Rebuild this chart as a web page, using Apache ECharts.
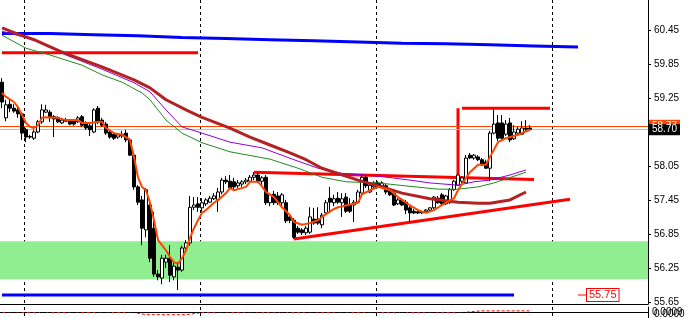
<!DOCTYPE html>
<html>
<head>
<meta charset="utf-8">
<script src="https://cdn.jsdelivr.net/npm/echarts@6/dist/echarts.min.js"></script>
<style>
  html, body { margin: 0; padding: 0; background: #fff; }
  #chart { width: 691px; height: 318px; }
</style>
</head>
<body>
<div id="chart"></div>
<script>
// price axis ticks shown on the right
var priceTicks = [55.65, 56.25, 56.85, 57.45, 58.05, 58.65, 59.25, 59.85, 60.45];

// candles: [open, close, low, high]
var candles = [
  [59.54,59.19,59.08,59.61],[58.91,59.14,58.85,59.23],[59.15,59.08,59.01,59.23],[59.08,59.03,59.00,59.15],
  [59.05,58.98,58.91,59.12],[58.98,58.64,58.52,59.01],[58.70,58.57,58.48,58.73],[58.58,58.57,58.54,58.61],
  [58.55,58.66,58.52,58.70],[58.66,58.84,58.64,58.87],[58.84,59.05,58.80,59.15],[59.01,59.05,59.00,59.14],
  [59.01,58.91,58.84,59.05],[58.93,58.89,58.57,58.96],[58.91,58.84,58.82,58.94],[58.82,58.87,58.80,58.91],
  [58.87,58.85,58.84,58.91],[58.85,58.80,58.78,58.89],[58.85,58.80,58.77,58.89],[58.84,58.91,58.82,58.94],
  [58.93,58.78,58.75,58.96],[58.82,58.73,58.70,58.85],[58.77,58.70,58.59,58.80],[58.66,59.05,58.64,59.08],
  [59.08,58.84,58.80,59.12],[58.87,58.78,58.75,58.91],[58.80,58.64,58.61,58.84],[58.66,58.57,58.54,58.70],
  [58.62,58.55,58.52,58.66],[58.57,58.61,58.54,58.64],[58.62,58.59,58.55,58.68],[58.64,58.52,58.48,58.70],
  [58.52,58.25,58.24,58.55],[58.25,57.69,57.64,58.31],[57.69,57.42,57.37,57.72],[57.46,56.96,56.66,57.53],
  [56.93,57.64,56.80,57.67],[57.37,56.43,56.36,57.46],[56.96,56.15,56.10,57.25],[56.15,56.10,56.04,56.22],
  [56.08,56.43,55.97,56.49],[56.36,56.43,56.26,56.49],[56.43,56.13,56.01,56.66],[56.10,56.29,56.04,56.36],
  [56.27,56.22,55.87,56.36],[56.22,56.61,56.19,56.65],[56.61,56.70,56.57,56.75],[56.70,57.33,56.65,57.53],
  [57.33,57.37,57.28,57.51],[57.39,57.33,57.25,57.51],[57.32,57.41,57.25,57.49],[57.39,57.46,57.35,57.49],
  [57.42,57.49,57.41,57.53],[57.48,57.53,57.46,57.58],[57.46,57.60,57.25,57.67],[57.60,57.81,57.56,57.85],
  [57.81,57.78,57.74,57.88],[57.79,57.67,57.64,57.90],[57.78,57.69,57.65,57.85],[57.71,57.76,57.67,57.81],
  [57.74,57.78,57.69,57.81],[57.78,57.81,57.74,57.85],[57.79,57.86,57.76,57.90],[57.86,57.90,57.81,57.95],
  [57.90,57.79,57.76,57.95],[57.79,57.85,57.71,57.88],[57.86,57.41,57.37,57.90],[57.41,57.55,57.35,57.58],
  [57.56,57.41,57.37,57.62],[57.53,57.41,57.37,57.60],[57.41,57.55,57.33,57.58],[57.41,57.09,57.05,57.46],
  [57.16,57.10,57.05,57.19],[57.10,56.80,56.77,57.14],[56.96,56.89,56.86,57.00],[56.93,56.88,56.84,56.96],
  [56.88,56.96,56.84,57.00],[56.89,57.16,56.86,57.33],[57.12,57.05,57.02,57.32],[57.12,57.05,57.02,57.33],
  [57.02,57.19,56.96,57.23],[57.23,57.41,57.19,57.46],[57.49,57.42,57.23,57.69],[57.41,57.48,57.35,57.55],
  [57.49,57.42,57.39,57.60],[57.41,57.48,57.16,57.58],[57.51,57.26,57.23,57.58],[57.37,57.26,57.23,57.49],
  [57.37,57.42,57.07,57.46],[57.42,57.60,57.39,57.64],[57.58,57.86,57.55,57.90],[57.86,57.71,57.67,57.90],
  [57.60,57.72,57.58,57.76],[57.69,57.76,57.67,57.79],[57.76,57.71,57.69,57.79],[57.71,57.76,57.69,57.79],
  [57.71,57.60,57.56,57.74],[57.64,57.55,57.53,57.67],[57.58,57.37,57.35,57.62],[57.39,57.46,57.37,57.49],
  [57.46,57.37,57.35,57.49],[57.42,57.28,57.21,57.46],[57.32,57.23,57.07,57.35],[57.26,57.23,57.21,57.30],
  [57.25,57.23,57.21,57.28],[57.23,57.25,57.21,57.26],[57.25,57.28,57.23,57.30],[57.28,57.32,57.26,57.33],
  [57.32,57.51,57.30,57.53],[57.49,57.41,57.39,57.53],[57.55,57.39,57.35,57.58],[57.39,57.53,57.37,57.55],
  [57.41,57.64,57.39,57.67],[57.64,57.79,57.62,57.81],[57.72,57.90,57.71,57.92],[57.79,57.85,57.76,57.88],
  [57.76,58.20,57.74,58.25],[58.25,58.20,58.18,58.29],[58.20,58.25,58.17,58.27],[58.22,58.17,58.15,58.25],
  [58.17,58.08,58.06,58.20],[58.13,58.02,58.01,58.17],[58.02,58.64,57.79,58.68],[58.64,58.80,58.62,59.08],
  [58.82,58.55,58.50,58.96],[58.82,58.55,58.52,58.96],[58.62,58.80,58.59,58.87],[58.82,58.52,58.48,58.91],
  [58.54,58.66,58.52,58.78],[58.64,58.71,58.61,58.75],[58.62,58.73,58.61,58.85],[58.73,58.71,58.66,58.87],
  [58.73,58.71,58.70,58.78]
];

// moving averages, [bar, value]
var emaFast = [[0,59.35],[1,59.28],[3,59.19],[4,59.10],[5,58.96],[6,58.82],[7,58.75],[8,58.73],[9,58.78],[10,58.91],
  [11,58.92],[14,58.91],[16,58.87],[19,58.87],[20,58.82],[22,58.82],[24,58.84],[25,58.84],[26,58.73],[28,58.64],
  [30,58.61],[31,58.57],[32,58.52],[33,58.22],[34,57.86],[35,57.69],[36,57.63],[37,57.41],[38,57.10],[39,56.75],
  [40,56.66],[41,56.57],[42,56.45],[43,56.36],[44,56.33],[45,56.43],[46,56.57],[47,56.79],[48,56.96],[49,57.10],
  [50,57.23],[51,57.28],[53,57.41],[54,57.46],[56,57.58],[57,57.67],[58,57.63],[61,57.69],[62,57.78],[64,57.78],
  [65,57.70],[66,57.60],[68,57.51],[70,57.33],[72,57.19],[73,57.07],[75,57.02],[77,57.05],[79,57.10],[81,57.21],
  [83,57.30],[84,57.33],[89,57.41],[90,57.56],[92,57.63],[94,57.69],[97,57.63],[99,57.51],[101,57.41],[104,57.28],
  [106,57.23],[108,57.28],[110,57.37],[113,57.49],[114,57.63],[116,57.85],[117,57.95],[119,58.08],[121,58.08],
  [122,58.22],[124,58.48],[126,58.55],[129,58.61],[132,58.70]];
var maBrown = [[0,60.50],[4,60.39],[8,60.29],[15,60.07],[25,59.81],[33,59.58],[37,59.44],[41,59.23],[46,59.05],
  [50,58.92],[57,58.73],[62,58.57],[67,58.43],[72,58.29],[76,58.17],[80,58.02],[89,57.81],[95,57.69],[100,57.58],
  [107,57.48],[114,57.42],[119,57.40],[122,57.40],[127,57.46],[131,57.60]];
var maPurple = [[0,60.44],[8,60.29],[16,60.02],[25,59.77],[33,59.53],[37,59.37],[41,59.05],[45,58.75],[50,58.64],
  [57,58.48],[65,58.38],[73,58.17],[79,58.02],[85,57.93],[94,57.88],[102,57.81],[107,57.76],[114,57.72],[118,57.78],
  [122,57.81],[127,57.90],[131,57.99]];
var maGreen = [[0,60.37],[6,60.14],[12,60.02],[20,59.84],[25,59.67],[30,59.54],[35,59.35],[37,59.23],[41,58.87],
  [45,58.64],[50,58.47],[57,58.31],[67,58.18],[74,58.02],[80,57.86],[86,57.78],[94,57.76],[102,57.70],[109,57.65],
  [114,57.65],[119,57.69],[123,57.76],[131,57.95]];

// higher timeframe line (stepped)
var blueSteps = [[0,60.40],[12,60.38],[23,60.36],[34,60.33],[45,60.31],[56,60.29],[67,60.27],[78,60.25],
  [89,60.23],[100,60.22],[111,60.20],[122,60.18],[133,60.16],[144,60.16]];
var blueLow = [[0,55.78],[128,55.78]];

// drawn objects
var redTop = [[0,60.06],[49,60.06]];
var redBoxTop = [[115,59.08],[137,59.08]];
var redBoxSide = [[114,59.08],[114,57.85]];
var redUpper = [[63,57.95],[133,57.82]];
var redSupport = [[73,56.77],[142,57.47]];
var priceTag = [[144,55.78],[146,55.78]];
var zone = [56.06, 56.73];
var bid = 58.70, ask = 58.77;

// indicator sub window
var subRed = [[0,0],[33,0],[36,-0.4],[46,-0.4],[50,0],[115,0],[120,0.3],[132,0.3]];

var cats = [];
for (var i = 0; i < 162; i++) cats.push(String(i));
var sepBars = [6, 50, 94, 138];

var font = 'Liberation Sans';
var myChart = echarts.init(document.getElementById('chart'), null, {renderer: 'canvas'});

function objLine(data, color, width, z) {
  return {
    type: 'line', data: data, showSymbol: false, silent: true, z: z || 3,
    lineStyle: {color: color, width: width}, animation: false
  };
}

var dashSplit = {
  show: true,
  interval: function (idx) { return sepBars.indexOf(idx) >= 0; },
  lineStyle: {color: '#000', width: 1, type: [3, 3]}
};

var option = {
  backgroundColor: '#fff',
  animation: false,
  grid: [
    {left: 0, right: 43, top: 0, height: 304},
    {left: 0, right: 43, top: 307, bottom: 0}
  ],
  xAxis: [{
    type: 'category', data: cats, gridIndex: 0, boundaryGap: true,
    axisLine: {show: true, lineStyle: {color: '#000'}},
    axisTick: {show: false}, axisLabel: {show: false},
    splitLine: dashSplit
  }, {
    type: 'category', data: cats, gridIndex: 1, position: 'top', boundaryGap: true,
    axisLine: {show: true, lineStyle: {color: '#000'}},
    axisTick: {show: false}, axisLabel: {show: false},
    splitLine: dashSplit
  }],
  yAxis: [{
    type: 'value', gridIndex: 0, position: 'right', min: 55.621, max: 60.992,
    splitLine: {show: false},
    axisLine: {show: true, lineStyle: {color: '#000'}},
    axisTick: {show: true, length: 3, customValues: priceTicks, lineStyle: {color: '#000'}},
    axisLabel: {
      customValues: priceTicks, margin: 6, color: '#000', fontSize: 10, fontFamily: font,
      formatter: function (v) { return v.toFixed(2); }
    }
  }, {
    type: 'value', gridIndex: 1, position: 'right', min: -1, max: 1,
    splitLine: {show: false},
    axisLine: {show: true, lineStyle: {color: '#000'}},
    axisTick: {show: false}, axisLabel: {show: false}
  }],
  graphic: [
    {type: 'text', left: 652, top: 307, z: 10, style: {text: '0.0009', fill: '#000', font: '10px ' + font}},
    {type: 'text', left: 654, top: 309, z: 10, style: {text: '0.0000', fill: '#000', font: '10px ' + font}}
  ],
  series: [
    {
      type: 'line', data: [], z: 1, silent: true,
      markArea: {
        silent: true,
        itemStyle: {color: '#90ee90'},
        data: [[{yAxis: zone[0]}, {yAxis: zone[1]}]]
      }
    },
    {
      type: 'line', data: [], z: 2, silent: true,
      markLine: {
        silent: true, symbol: ['none', 'none'],
        data: [{
          yAxis: ask,
          lineStyle: {color: '#ff4500', width: 1, type: 'solid'},
          label: {position: 'end', distance: 1, formatter: '58.77', color: '#fff', backgroundColor: '#ff4500',
            padding: [1, 3, 1, 3], fontSize: 10, fontFamily: font}
        }, {
          yAxis: bid,
          lineStyle: {color: '#c0c0c0', width: 1, type: 'solid'},
          label: {position: 'end', distance: 1, formatter: '58.70', color: '#fff', backgroundColor: '#000',
            padding: [1, 3, 0, 3], fontSize: 10, fontFamily: font}
        }]
      }
    },
    Object.assign(objLine(blueSteps, '#0000ff', 3), {step: 'end'}),
    objLine(blueLow, '#0000ff', 3),
    objLine(redTop, '#ff0000', 3),
    objLine(redBoxTop, '#ff0000', 3),
    objLine(redBoxSide, '#ff0000', 3),
    objLine(redUpper, '#ff0000', 3),
    objLine(redSupport, '#ff0000', 3),
    Object.assign(objLine(priceTag, '#ff0000', 1), {
      endLabel: {show: true, formatter: '55.75', color: '#ff0000', backgroundColor: '#fff',
        borderColor: '#ff0000', borderWidth: 1, padding: [1, 2, 0, 2], distance: 1,
        fontSize: 11, fontFamily: font}
    }),
    {
      type: 'candlestick', data: candles, z: 5, barWidth: 3, silent: true,
      itemStyle: {color: '#fff', color0: '#000', borderColor: '#000', borderColor0: '#000', borderWidth: 1}
    },
    objLine(maGreen, '#228b22', 1, 6),
    objLine(maPurple, '#9400d3', 1, 6),
    objLine(maBrown, '#b22222', 3, 6),
    objLine(emaFast, '#ff4500', 2, 7),
    {
      type: 'line', xAxisIndex: 1, yAxisIndex: 1, data: [], silent: true,
      markLine: {silent: true, symbol: ['none', 'none'], label: {show: false},
        data: [{yAxis: 0.1}], lineStyle: {color: '#000', width: 1, type: [3, 3]}}
    },
    {
      type: 'line', xAxisIndex: 1, yAxisIndex: 1, data: subRed, showSymbol: false, silent: true,
      lineStyle: {color: '#ff0000', width: 1, type: [3, 2]}
    }
  ]
};

myChart.setOption(option);
</script>
</body>
</html>
